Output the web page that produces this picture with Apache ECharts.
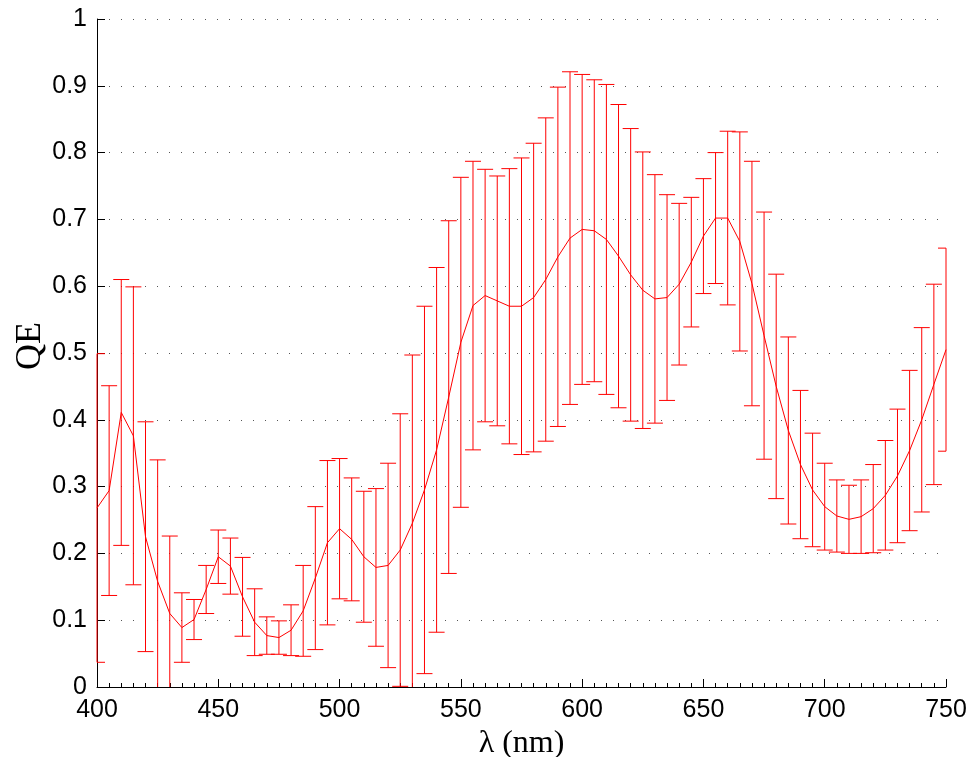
<!DOCTYPE html>
<html>
<head>
<meta charset="utf-8">
<script src="https://cdn.jsdelivr.net/npm/echarts@6/dist/echarts.min.js"></script>
<style>
html,body{margin:0;padding:0;background:#fff;overflow:hidden;}
#chart{width:970px;height:757px;}
</style>
</head>
<body>
<div id="chart"></div>
<script>
const wavelengths = [400,405,410,415,420,425,430,435,440,445,450,455,460,465,470,475,480,485,490,495,
  500,505,510,515,520,525,530,535,540,545,550,555,560,565,570,575,580,585,590,595,
  600,605,610,615,620,625,630,635,640,645,650,655,660,665,670,675,680,685,690,695,
  700,705,710,715,720,725,730,735,740,745,750];
const qeMean = [0.268,0.294,0.411,0.376,0.225,0.158,0.110,0.089,0.101,0.146,0.195,0.181,0.135,0.097,0.077,0.074,0.085,0.114,0.163,0.216,
  0.237,0.221,0.195,0.179,0.182,0.205,0.245,0.295,0.355,0.434,0.516,0.571,0.586,0.578,0.570,0.570,0.583,0.610,0.644,0.672,
  0.685,0.683,0.670,0.645,0.617,0.594,0.581,0.583,0.603,0.636,0.675,0.702,0.702,0.667,0.604,0.526,0.450,0.384,0.333,0.295,
  0.270,0.256,0.251,0.255,0.267,0.287,0.316,0.354,0.400,0.453,0.505];
const qeErr = [0.231,0.157,0.199,0.223,0.172,0.182,0.116,0.052,0.030,0.036,0.040,0.042,0.059,0.050,0.028,0.025,0.038,0.068,0.107,0.123,
  0.105,0.092,0.098,0.118,0.153,0.204,0.252,0.275,0.273,0.264,0.247,0.216,0.189,0.187,0.206,0.222,0.231,0.242,0.254,0.249,
  0.232,0.226,0.232,0.227,0.219,0.207,0.186,0.154,0.121,0.097,0.086,0.098,0.130,0.164,0.183,0.185,0.168,0.140,0.111,0.085,
  0.065,0.054,0.051,0.055,0.066,0.082,0.100,0.120,0.138,0.150,0.152];
const xTicks = [400,450,500,550,600,650,700,750];
const yTicks = [0,0.1,0.2,0.3,0.4,0.5,0.6,0.7,0.8,0.9,1];
const xTitle = 'λ (nm)';
const yTitle = 'QE';

const lineData = wavelengths.map((w,i)=>[w, qeMean[i]]);
const errData = wavelengths.map((w,i)=>[w, qeMean[i]-qeErr[i], qeMean[i]+qeErr[i]]);

const RED = '#ff0000';
const chart = echarts.init(document.getElementById('chart'), null, {renderer:'canvas', width:970, height:757});

function renderErr(params, api){
  const cs = params.coordSys;
  const x = api.value(0), lo = api.value(1), hi = api.value(2);
  const pLo = api.coord([x, lo]);
  const pHi = api.coord([x, hi]);
  const top = cs.y, bottom = cs.y + cs.height, left = cs.x, right = cs.x + cs.width;
  const px = pLo[0];
  const half = 8;
  const children = [];
  const y1 = Math.max(top, Math.min(bottom, pHi[1]));
  const y2 = Math.max(top, Math.min(bottom, pLo[1]));
  const style = {stroke: RED, lineWidth: 1};
  children.push({type:'line', shape:{x1:px, y1:y1, x2:px, y2:y2}, style});
  const cx1 = Math.max(left, px-half), cx2 = Math.min(right, px+half);
  [pHi[1], pLo[1]].forEach(cy=>{
    if (cy >= top-0.5 && cy <= bottom+0.5) {
      children.push({type:'line', shape:{x1:cx1, y1:cy, x2:cx2, y2:cy}, style});
    }
  });
  return {type:'group', children};
}

chart.setOption({
  animation: false,
  backgroundColor: '#fff',
  grid: {left: 97, right: 24, top: 19, bottom: 70, containLabel: false, outerBoundsMode: 'none'},
  graphic: [{
    type: 'text', x: 31, y: 346, rotation: Math.PI/2,
    style: {text: yTitle, fontFamily: 'Liberation Serif', fontSize: 36, fill: '#000',
      align: 'center', verticalAlign: 'middle', textAlign: 'center', textVerticalAlign: 'middle'}
  }],
  xAxis: {
    type: 'value', min: xTicks[0], max: xTicks[xTicks.length-1], interval: 50,
    name: xTitle, nameLocation: 'middle', nameGap: 37,
    nameTextStyle: {fontFamily: 'Liberation Serif', fontSize: 32, color: '#000'},
    axisLine: {show: true, onZero: false, lineStyle: {color: '#000', width: 1}},
    axisTick: {show: true, inside: true, length: 8, lineStyle: {color: '#000'}},
    minorTick: {show: true, splitNumber: 10, length: 4, lineStyle: {color: '#000'}},
    axisLabel: {fontFamily: 'Liberation Sans', fontSize: 25, color: '#000', margin: 11},
    splitLine: {show: false}
  },
  yAxis: {
    type: 'value', min: yTicks[0], max: yTicks[yTicks.length-1], interval: 0.1,
    axisLine: {show: true, lineStyle: {color: '#000', width: 1}},
    axisTick: {show: true, inside: true, length: 8, lineStyle: {color: '#000'}},
    axisLabel: {fontFamily: 'Liberation Sans', fontSize: 25, color: '#000', margin: 10,
      formatter: v => String(Math.round(v*10)/10)},
    splitLine: {show: true, lineStyle: {color: '#555', width: 1, type: [1, 11]}}
  },
  series: [
    {
      type: 'custom', renderItem: renderErr, data: errData,
      encode: {x: 0, y: [1, 2]}, z: 2, silent: true
    },
    {
      type: 'line', data: lineData, showSymbol: false, symbol: 'none',
      lineStyle: {color: RED, width: 1}, z: 3, silent: true, clip: true
    }
  ]
});
</script>
</body>
</html>
